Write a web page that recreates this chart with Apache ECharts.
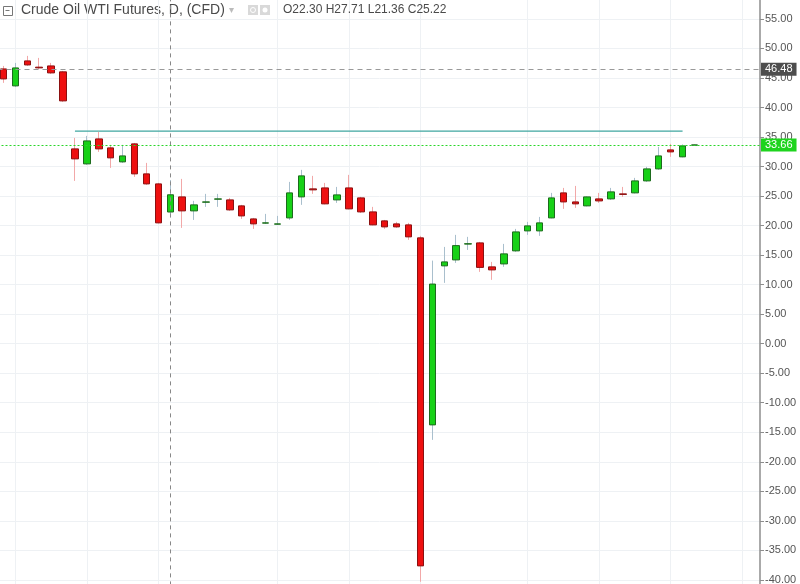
<!DOCTYPE html>
<html>
<head>
<meta charset="utf-8">
<style>
  html, body { margin: 0; padding: 0; background: #fff; }
  #chart { width: 800px; height: 584px; }
</style>
<script src="https://cdn.jsdelivr.net/npm/echarts@6/dist/echarts.min.js"></script>
</head>
<body>
<div id="chart"></div>
<script>
// trading days shown (daily bars)
const dates = [
  '2020-02-28',
  '2020-03-02', '2020-03-03', '2020-03-04', '2020-03-05', '2020-03-06',
  '2020-03-09', '2020-03-10', '2020-03-11', '2020-03-12', '2020-03-13',
  '2020-03-16', '2020-03-17', '2020-03-18', '2020-03-19', '2020-03-20',
  '2020-03-23', '2020-03-24', '2020-03-25', '2020-03-26', '2020-03-27',
  '2020-03-30', '2020-03-31', '2020-04-01', '2020-04-02', '2020-04-03',
  '2020-04-06', '2020-04-07', '2020-04-08', '2020-04-09',
  '2020-04-13', '2020-04-14', '2020-04-15', '2020-04-16', '2020-04-17',
  '2020-04-20', '2020-04-21', '2020-04-22', '2020-04-23', '2020-04-24',
  '2020-04-27', '2020-04-28', '2020-04-29', '2020-04-30', '2020-05-01',
  '2020-05-04', '2020-05-05', '2020-05-06', '2020-05-07', '2020-05-08',
  '2020-05-11', '2020-05-12', '2020-05-13', '2020-05-14', '2020-05-15',
  '2020-05-18', '2020-05-19', '2020-05-20', '2020-05-21'
]
// empty slots on the right of the last bar
const spareSlots = ['', '', '', '', '']

const opens = [
  46.53, 43.66, 47.89, 46.83, 47.04, 46.04, 32.99, 30.45, 34.68, 33.16,
  30.79, 33.84, 28.76, 27.06, 22.30, 24.86, 22.49, 23.96, 24.47, 24.35,
  23.34, 21.13, 20.42, 20.24, 21.30, 24.86, 26.22, 26.38, 24.35, 26.38,
  24.69, 22.32, 20.80, 20.29, 20.12, 17.92, -13.75, 13.18, 14.19, 16.87,
  17.07, 13.01, 13.51, 15.72, 19.10, 19.10, 21.30, 25.54, 24.01, 23.34,
  24.52, 24.52, 25.37, 25.54, 27.57, 29.60, 32.82, 31.64, 33.62
]
const closes = [
  44.84, 46.70, 47.21, 46.71, 45.86, 41.12, 31.30, 34.34, 32.99, 31.47,
  31.80, 28.76, 27.06, 20.46, 25.22, 22.49, 23.51, 24.01, 24.52, 22.66,
  21.64, 20.29, 20.46, 20.29, 25.54, 28.42, 26.05, 23.68, 25.20, 22.83,
  22.32, 20.12, 19.78, 19.78, 18.09, -37.63, 10.10, 13.85, 16.61, 16.93,
  12.92, 12.50, 15.21, 18.93, 19.95, 20.46, 24.69, 24.01, 23.68, 24.86,
  24.18, 25.71, 25.28, 27.57, 29.60, 31.80, 32.48, 33.50, 33.66
]
const lows = [
  44.17, 43.49, 47.04, 46.54, 45.69, 40.95, 27.57, 30.28, 32.48, 29.77,
  30.62, 28.25, 26.89, 20.37, 21.36, 19.61, 20.96, 23.17, 23.17, 22.49,
  21.13, 19.44, 20.29, 20.12, 20.96, 23.51, 25.37, 23.59, 23.84, 22.74,
  22.15, 20.03, 19.44, 19.61, 17.58, -40.32, -16.29, 10.30, 13.68, 15.88,
  12.16, 10.81, 13.01, 15.55, 18.43, 18.26, 21.22, 22.83, 23.00, 23.25,
  23.84, 24.35, 24.86, 25.45, 27.40, 29.43, 31.64, 31.55, 33.58
]
const highs = [
  47.04, 47.55, 48.74, 48.40, 47.55, 46.20, 34.85, 35.19, 35.87, 33.67,
  33.67, 34.00, 30.62, 27.23, 27.71, 27.91, 24.19, 25.37, 25.37, 24.69,
  23.51, 21.30, 21.98, 21.64, 27.40, 29.44, 28.42, 27.23, 26.55, 28.59,
  24.86, 23.17, 20.96, 20.63, 20.46, 18.26, 14.07, 16.39, 18.43, 18.09,
  17.24, 13.85, 16.90, 19.44, 20.63, 21.47, 25.54, 26.38, 26.72, 24.95,
  25.54, 26.38, 26.55, 28.08, 29.94, 33.33, 33.84, 33.75, 33.72
]

// legend values of the hovered bar
const legendOHLC = ['O22.30', 'H27.71', 'L21.36', 'C25.22']
const hoverIndex = 14
const crosshairPrice = 46.48
const lastPrice = 33.66
// user drawn horizontal line
const trendLine = { from: 6, to: 57, price: 36.0 }
// bars where the time scale puts its vertical grid lines
const gridBars = [1, 7, 13, 23, 29, 35, 44, 50, 56, 62]

const categories = dates.concat(spareSlots)
const bodies = dates.map((d, i) => {
  const o = opens[i]
  const c = closes[i]
  return [o, c, Math.min(o, c), Math.max(o, c)]
})
const wicks = dates.map((d, i) => [opens[i], closes[i], lows[i], highs[i]])
const trendData = categories.map((c, i) =>
  (i === trendLine.from || i === trendLine.to) ? trendLine.price : null)

const chart = echarts.init(document.getElementById('chart'))
const font = 'Liberation Sans, Arial, sans-serif'

chart.setOption({
  animation: false,
  grid: {
    left: -2.5, right: 40, top: -10.6, bottom: -25.4,
    outerBoundsMode: 'none',
    containLabel: false
  },
  xAxis: {
    type: 'category',
    data: categories,
    axisLine: { show: false },
    axisTick: { show: false },
    axisLabel: { show: false },
    splitLine: {
      show: true,
      alignWithLabel: true,
      interval: (idx) => gridBars.indexOf(idx) >= 0,
      lineStyle: { color: '#eef1f4', width: 1 }
    }
  },
  yAxis: {
    type: 'value',
    position: 'right',
    min: -45,
    max: 60,
    interval: 5,
    axisLine: { show: true, lineStyle: { color: '#8e8e8e', width: 1.5 } },
    axisTick: { show: true, length: 4, lineStyle: { color: '#8e8e8e' } },
    axisLabel: {
      color: '#555',
      fontSize: 11,
      fontFamily: font,
      margin: 5,
      formatter: (v) => v.toFixed(2)
    },
    splitLine: { lineStyle: { color: '#eef1f4', width: 1 } }
  },
  graphic: [
    // collapse box
    { type: 'rect', left: 3, top: 6, shape: { width: 9, height: 9 },
      style: { fill: '#fff', stroke: '#777', lineWidth: 1 } },
    { type: 'line', shape: { x1: 5.5, y1: 10.5, x2: 9.5, y2: 10.5 },
      style: { stroke: '#777', lineWidth: 1 } },
    { type: 'text', left: 21, top: 3,
      style: { text: 'Crude Oil WTI Futures, D, (CFD)', fill: '#4a4a4a', font: '14px ' + font } },
    { type: 'text', left: 229, top: 5,
      style: { text: '▾', fill: '#bbb', font: '10px ' + font } },
    { type: 'rect', left: 248, top: 5, shape: { width: 10, height: 10 },
      style: { fill: '#d9d9d9' } },
    { type: 'circle', shape: { cx: 253, cy: 10, r: 2.5 },
      style: { fill: 'none', stroke: '#fff', lineWidth: 1 } },
    { type: 'rect', left: 260, top: 5, shape: { width: 10, height: 10 },
      style: { fill: '#d9d9d9' } },
    { type: 'circle', shape: { cx: 265, cy: 10, r: 2.5 },
      style: { fill: '#fff' } },
    { type: 'text', left: 283, top: 4, z: 100,
      style: { text: legendOHLC.join(' '), fill: '#4a4a4a', font: '12px ' + font } }
  ],
  series: [
    {
      // drawn horizontal line
      name: 'trend',
      type: 'line',
      data: trendData,
      connectNulls: true,
      showSymbol: false,
      symbol: 'none',
      silent: true,
      lineStyle: { color: '#3fa6a0', width: 1.2, type: 'solid' },
      z: 1
    },
    {
      // thin pale wicks
      name: 'wicks',
      type: 'candlestick',
      data: wicks,
      barWidth: 1,
      itemStyle: {
        color: '#a9bfcd',
        color0: '#f2a8a8',
        borderColor: '#a9bfcd',
        borderColor0: '#f2a8a8',
        borderWidth: 1
      }
    },
    {
      name: 'bodies',
      type: 'candlestick',
      data: bodies,
      barWidth: 7,
      itemStyle: {
        color: '#17d117',
        color0: '#ee1010',
        borderColor: '#1d6b1d',
        borderColor0: '#8c1010',
        borderWidth: 1
      },
      markLine: {
        symbol: 'none',
        silent: true,
        animation: false,
        data: [
          {
            xAxis: hoverIndex,
            lineStyle: { color: '#888', type: [4, 4], width: 1 },
            label: { show: false }
          },
          {
            yAxis: crosshairPrice,
            lineStyle: { color: '#999', type: [5, 4], width: 1 },
            label: {
              show: true,
              position: 'end',
              distance: 1,
              formatter: crosshairPrice.toFixed(2),
              color: '#fff',
              fontSize: 11,
              fontFamily: font,
              backgroundColor: '#4d4d4d',
              padding: [1, 4, 1, 4]
            }
          },
          {
            yAxis: lastPrice,
            lineStyle: { color: '#29d629', type: [2, 2], width: 1 },
            label: {
              show: true,
              position: 'end',
              distance: 1,
              formatter: lastPrice.toFixed(2),
              color: '#fff',
              fontSize: 11,
              fontFamily: font,
              backgroundColor: '#1ed41e',
              padding: [1, 4, 1, 4]
            }
          }
        ]
      }
    }
  ]
})
</script>
</body>
</html>
